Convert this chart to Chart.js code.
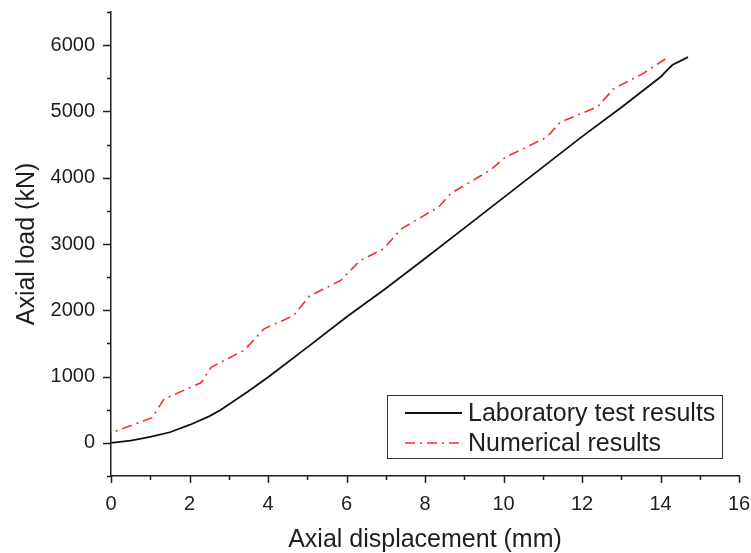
<!DOCTYPE html>
<html>
<head>
<meta charset="utf-8">
<script src="https://cdn.jsdelivr.net/npm/chart.js@4.4.1/dist/chart.umd.min.js"></script>
<style>
  html, body { margin: 0; padding: 0; background: #fff; }
  #wrap { width: 751px; height: 553px; }
</style>
</head>
<body>
<div id="wrap"><canvas id="loadChart" width="751" height="553"></canvas></div>
<script>
// Laboratory test (solid black)
const labDisp = [0, 0.5, 1, 1.5, 2, 2.5, 2.8, 3.5, 4, 5, 6, 7, 8, 9, 10, 11, 12, 13, 14, 14.3, 14.7];
const labLoad = [0, 35, 90, 160, 270, 400, 500, 780, 990, 1440, 1900, 2330, 2780, 3240, 3700, 4160, 4620, 5060, 5520, 5700, 5820];

// Numerical model (red dash-dot)
const numDisp = [0, 0, 1.05, 1.35, 2.3, 2.55, 3.4, 3.9, 4.65, 5.05, 5.85, 6.35, 6.95, 7.4, 8.35, 8.65, 9.65, 10.05, 11.1, 11.45, 12.4, 12.8, 13.55, 14.2];
const numLoad = [0, 150, 380, 660, 910, 1140, 1400, 1720, 1920, 2210, 2450, 2750, 2930, 3230, 3560, 3760, 4110, 4310, 4610, 4840, 5070, 5340, 5570, 5820];

const seriesLabels = ['Laboratory test results', 'Numerical results'];

// axis ranges / tick spacing
const xMin = 0, xMax = 16, xMinorStep = 1, xMajorStep = 2;
const yMin = -500, yMax = 6500, yMinorStep = 500, yMajorStep = 1000;

const FONT = "'Liberation Sans', Arial, sans-serif";
const INK = '#1e1e1e';

function toPoints(xs, ys) {
    return xs.map((x, i) => ({ x: x, y: ys[i] }));
}

// no extra room for overhanging tick labels, the layout padding handles it
function noLabelPadding(scale) {
    scale.paddingTop = 0;
    scale.paddingBottom = 0;
    scale.paddingLeft = 0;
    scale.paddingRight = 0;
}

// tick marks: long on major values, short in between, drawn outside the axes
const tickMarks = {
    id: 'tickMarks',
    afterDraw(chart) {
        const ctx = chart.ctx;
        const xs = chart.scales.x, ys = chart.scales.y;
        const area = chart.chartArea;
        ctx.save();
        ctx.strokeStyle = INK;
        ctx.lineWidth = 1.5;
        ctx.beginPath();
        for (let v = xMin; v <= xMax + 1e-9; v += xMinorStep) {
            const px = Math.round(xs.getPixelForValue(v)) + 0.5;
            const len = v % xMajorStep === 0 ? 7 : 4;
            ctx.moveTo(px, area.bottom);
            ctx.lineTo(px, area.bottom + len);
        }
        for (let v = yMin; v <= yMax + 1e-9; v += yMinorStep) {
            const py = Math.round(ys.getPixelForValue(v)) + 0.5;
            const len = v % yMajorStep === 0 ? 8 : 4;
            ctx.moveTo(area.left, py);
            ctx.lineTo(area.left - len, py);
        }
        ctx.stroke();
        ctx.restore();
    }
};

// boxed legend in the lower right of the plot
const boxLegend = {
    id: 'boxLegend',
    afterDraw(chart) {
        const ctx = chart.ctx;
        const box = { x: 387.5, y: 395.5, w: 335, h: 63 };
        ctx.save();
        ctx.fillStyle = '#fff';
        ctx.fillRect(box.x, box.y, box.w, box.h);
        ctx.strokeStyle = '#333';
        ctx.lineWidth = 1;
        ctx.strokeRect(box.x, box.y, box.w, box.h);
        ctx.font = '25px ' + FONT;
        ctx.textBaseline = 'middle';
        chart.data.datasets.forEach((ds, i) => {
            const y = 413 + i * 30;
            ctx.strokeStyle = ds.borderColor;
            ctx.lineWidth = ds.borderWidth;
            ctx.setLineDash(ds.borderDash || []);
            ctx.beginPath();
            ctx.moveTo(405, y);
            ctx.lineTo(462, y);
            ctx.stroke();
            ctx.setLineDash([]);
            ctx.fillStyle = INK;
            ctx.fillText(ds.label, 468, y + 1);
        });
        ctx.restore();
    }
};

new Chart(document.getElementById('loadChart').getContext('2d'), {
    type: 'scatter',
    data: {
        datasets: [{
            label: seriesLabels[0],
            data: toPoints(labDisp, labLoad),
            showLine: true,
            borderColor: '#111',
            borderWidth: 1.8,
            pointRadius: 0,
            tension: 0
        }, {
            label: seriesLabels[1],
            data: toPoints(numDisp, numLoad),
            showLine: true,
            borderColor: '#ff2a2a',
            borderWidth: 1.6,
            borderDash: [10, 5, 2, 5],
            pointRadius: 0,
            tension: 0
        }]
    },
    options: {
        responsive: false,
        animation: false,
        layout: { padding: { top: 12, right: 12, left: 0, bottom: 0 } },
        plugins: {
            legend: { display: false },
            tooltip: { enabled: false }
        },
        scales: {
            x: {
                type: 'linear',
                min: xMin,
                max: xMax,
                afterFit: scale => { scale.height = 77; noLabelPadding(scale); },
                grid: { display: false, drawTicks: false },
                border: { display: true, color: INK, width: 1.5 },
                ticks: {
                    stepSize: xMinorStep,
                    autoSkip: false,
                    maxRotation: 0,
                    padding: 16,
                    color: INK,
                    font: { family: FONT, size: 20 },
                    callback: v => (v % xMajorStep === 0 ? String(v) : '')
                },
                title: {
                    display: true,
                    text: 'Axial displacement (mm)',
                    color: INK,
                    font: { family: FONT, size: 25, lineHeight: 1 },
                    padding: { top: 0, bottom: 0 }
                }
            },
            y: {
                type: 'linear',
                min: yMin,
                max: yMax,
                afterFit: scale => { scale.width = 111; noLabelPadding(scale); },
                grid: { display: false, drawTicks: false },
                border: { display: true, color: INK, width: 1.5 },
                ticks: {
                    stepSize: yMinorStep,
                    autoSkip: false,
                    padding: 16,
                    color: INK,
                    font: { family: FONT, size: 20 },
                    callback: v => (v % yMajorStep === 0 && v >= 0 && v <= 6000 ? String(v) : '')
                },
                title: {
                    display: true,
                    text: 'Axial load (kN)',
                    color: INK,
                    font: { family: FONT, size: 25, lineHeight: 1 },
                    padding: { top: 15, bottom: 0 }
                }
            }
        }
    },
    plugins: [tickMarks, boxLegend]
});
</script>
</body>
</html>
